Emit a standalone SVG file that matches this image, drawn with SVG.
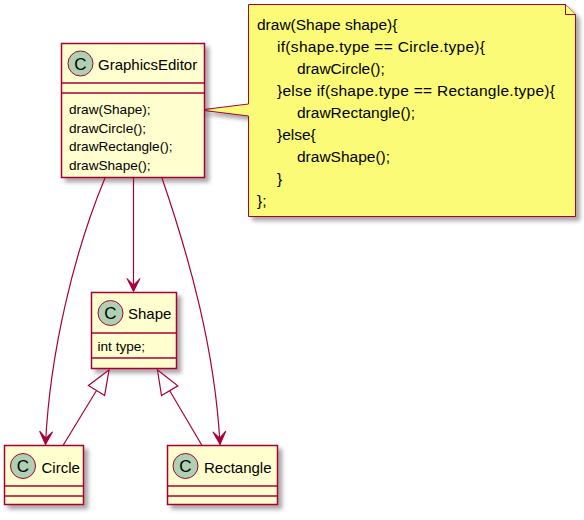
<svg xmlns="http://www.w3.org/2000/svg" width="584" height="520" viewBox="0 0 584 520">
<style>
.box{fill:#FEFECE;stroke:#A80036;stroke-width:1.5}
.sep{stroke:#A80036;stroke-width:1.5}
.spot{fill:#ADD1B2;stroke:#A80036;stroke-width:1}
.spotc{font-family:"Liberation Sans",Arial,sans-serif;font-size:17px;fill:#000;text-anchor:middle}
.name{font-family:"Liberation Sans",Arial,sans-serif;font-size:15px;fill:#000}
.mem{font-family:"Liberation Sans",Arial,sans-serif;font-size:13.6px;fill:#000}
.note{fill:#FBFB77;stroke:#A80036;stroke-width:1}
.nt{font-family:"Liberation Sans",Arial,sans-serif;font-size:15.5px;fill:#000}
.edge{fill:none;stroke:#A80036;stroke-width:1.2}
</style>
<defs>
<filter id="sh" x="-10%" y="-10%" width="130%" height="130%">
<feGaussianBlur in="SourceAlpha" stdDeviation="2"/>
<feOffset dx="4" dy="4" result="o"/>
<feComponentTransfer><feFuncA type="linear" slope="0.35"/></feComponentTransfer>
<feMerge><feMergeNode/><feMergeNode in="SourceGraphic"/></feMerge>
</filter>
<marker id="arr" markerUnits="userSpaceOnUse" viewBox="-14 -8 16 16" refX="0" refY="0" markerWidth="16" markerHeight="16" orient="auto">
<path d="M0,0 L-13,-6.5 L-6.5,0 L-13,6.5 Z" fill="#A80036" stroke="#A80036" stroke-width="1"/>
</marker>
<marker id="tri" markerUnits="userSpaceOnUse" viewBox="-25 -12 28 24" refX="0" refY="0" markerWidth="28" markerHeight="24" orient="auto">
<path d="M0,0 L-24,-9.5 L-24,9.5 Z" fill="#FFFFFF" stroke="#A80036" stroke-width="1.2"/>
</marker>
</defs>

<g id="note">
<path class="note" filter="url(#sh)" d="M248.5,4.5 H565.5 L575.5,14.5 V216.5 H248.5 V116 L200,110 L248.5,104 Z"/>
<path class="note" d="M565.5,4.5 V14.5 H575.5"/>
<text class="nt" x="257" y="29.5">draw(Shape shape){</text>
<text class="nt" x="277" y="51.5" textLength="208" lengthAdjust="spacing">if(shape.type == Circle.type){</text>
<text class="nt" x="297" y="73.5">drawCircle();</text>
<text class="nt" x="277" y="95.5" textLength="278" lengthAdjust="spacing">}else if(shape.type == Rectangle.type){</text>
<text class="nt" x="297" y="117.5">drawRectangle();</text>
<text class="nt" x="277" y="139.5">}else{</text>
<text class="nt" x="297" y="161.5">drawShape();</text>
<text class="nt" x="277" y="183.5">}</text>
<text class="nt" x="257" y="205.5">};</text>
</g>

<g id="GraphicsEditor">
<rect class="box" filter="url(#sh)" x="61.5" y="43.5" width="143" height="134"/>
<line class="sep" x1="61.5" y1="83" x2="204.5" y2="83"/>
<line class="sep" x1="61.5" y1="93" x2="204.5" y2="93"/>
<circle class="spot" cx="80.5" cy="63.5" r="12.5"/>
<text class="spotc" x="80.5" y="69.5">C</text>
<text class="name" x="98" y="69.5">GraphicsEditor</text>
<text class="mem" x="69" y="114">draw(Shape);</text>
<text class="mem" x="69" y="132.5">drawCircle();</text>
<text class="mem" x="69" y="151">drawRectangle();</text>
<text class="mem" x="69" y="169.5">drawShape();</text>
</g>

<g id="Shape">
<rect class="box" filter="url(#sh)" x="91.5" y="292.5" width="85" height="76"/>
<line class="sep" x1="91.5" y1="333" x2="176.5" y2="333"/>
<line class="sep" x1="91.5" y1="358" x2="176.5" y2="358"/>
<circle class="spot" cx="110.5" cy="313" r="12.5"/>
<text class="spotc" x="110.5" y="319">C</text>
<text class="name" x="128" y="318.5">Shape</text>
<text class="mem" x="97.5" y="351">int type;</text>
</g>

<g id="Circle">
<rect class="box" filter="url(#sh)" x="4.5" y="445.5" width="79" height="59"/>
<line class="sep" x1="4.5" y1="486" x2="83.5" y2="486"/>
<line class="sep" x1="4.5" y1="496" x2="83.5" y2="496"/>
<circle class="spot" cx="23" cy="466" r="12.5"/>
<text class="spotc" x="23" y="472">C</text>
<text class="name" x="41.5" y="472.5">Circle</text>
</g>

<g id="Rectangle">
<rect class="box" filter="url(#sh)" x="167.5" y="445.5" width="110" height="59"/>
<line class="sep" x1="167.5" y1="486" x2="277.5" y2="486"/>
<line class="sep" x1="167.5" y1="496" x2="277.5" y2="496"/>
<circle class="spot" cx="185.5" cy="466" r="12.5"/>
<text class="spotc" x="185.5" y="472">C</text>
<text class="name" x="204" y="472.5">Rectangle</text>
</g>

<g id="connectors">
<path class="edge" d="M133.5,178 V291.5" marker-end="url(#arr)"/>
<path class="edge" d="M105,178 C75,250 50,350 45.5,444.5" marker-end="url(#arr)"/>
<path class="edge" d="M162,178 C190,260 215,350 220,444.5" marker-end="url(#arr)"/>
<path class="edge" d="M63,445.5 L109,370" marker-end="url(#tri)"/>
<path class="edge" d="M202,445.5 L157.5,370" marker-end="url(#tri)"/>
</g>
</svg>
